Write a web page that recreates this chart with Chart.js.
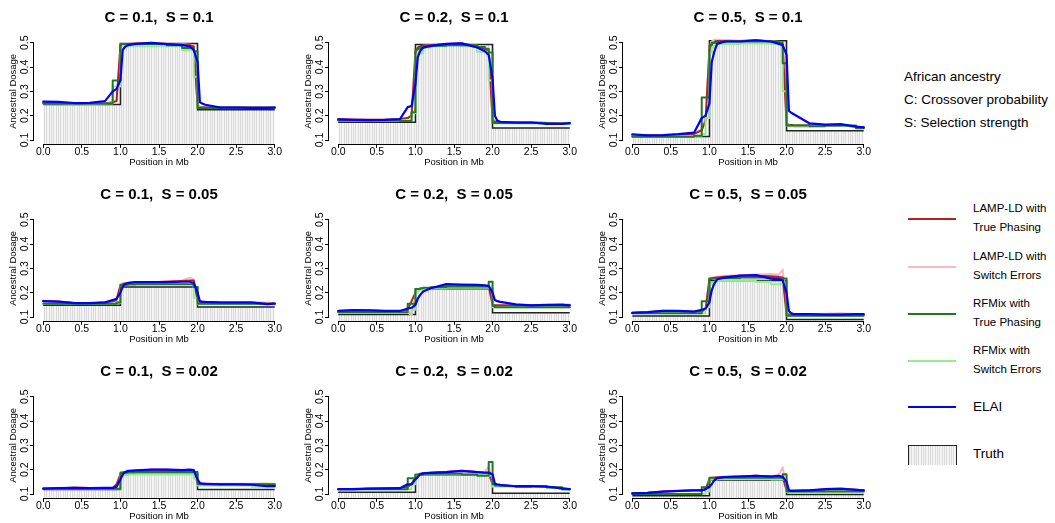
<!DOCTYPE html>
<html>
<head>
<meta charset="utf-8">
<script src="https://cdn.jsdelivr.net/npm/chart.js@4.4.0/dist/chart.umd.min.js"></script>
<style>
  html, body { margin: 0; padding: 0; background: #fff; overflow: hidden; }
  body { width: 1055px; height: 523px; position: relative; font-family: "Liberation Sans", Arial, Helvetica, sans-serif; }
  .panel { position: absolute; width: 290px; height: 169px; }
  .txt { position: absolute; white-space: nowrap; color: #000; }
  .swatch { position: absolute; height: 2px; width: 48px; left: 908px; }
  .truthbox { position: absolute; left: 908px; width: 47px; height: 19px; border: 1px solid #222; border-bottom: none;
    background: repeating-linear-gradient(90deg, #dcdcdc 0px, #dcdcdc 1px, #f4f4f4 1px, #f4f4f4 2.33px); }
</style>
</head>
<body>
<script>
const family = '"Liberation Sans", Arial, Helvetica, sans-serif';

// panel titles, row by row
const panelTitles = [
    'C = 0.1,  S = 0.1', 'C = 0.2,  S = 0.1', 'C = 0.5,  S = 0.1',
    'C = 0.1,  S = 0.05', 'C = 0.2,  S = 0.05', 'C = 0.5,  S = 0.05',
    'C = 0.1,  S = 0.02', 'C = 0.2,  S = 0.02', 'C = 0.5,  S = 0.02'
];

// positions (Mb) where the estimates were read
const positions = [0, 0.2, 0.4, 0.6, 0.8, 0.9, 0.95, 1.0, 1.03, 1.06, 1.1, 1.2, 1.4, 1.6, 1.8, 1.9, 1.95,
    2.0, 2.03, 2.06, 2.1, 2.3, 2.5, 2.7, 2.9, 3.0];

// truth: level left of 1 Mb, between 1 and 2 Mb, right of 2 Mb
const truthBreaks = [0, 1, 2, 3];
const truthLevels = [
    [0.246, 0.497, 0.224], [0.173, 0.493, 0.149], [0.114, 0.508, 0.138],
    [0.148, 0.223, 0.141], [0.110, 0.216, 0.118], [0.104, 0.250, 0.090],
    [0.119, 0.181, 0.119], [0.107, 0.178, 0.103], [0.093, 0.158, 0.098]
];

const elai = [
    [0.258, 0.257, 0.252, 0.253, 0.26, 0.3, 0.31, 0.345, 0.47, 0.483, 0.49, 0.495, 0.499, 0.494, 0.49, 0.485, 0.47, 0.42, 0.255, 0.25, 0.245, 0.233, 0.233, 0.232, 0.232, 0.233],
    [0.185, 0.183, 0.182, 0.183, 0.186, 0.235, 0.24, 0.33, 0.44, 0.465, 0.48, 0.487, 0.495, 0.497, 0.48, 0.465, 0.45, 0.35, 0.2, 0.18, 0.175, 0.172, 0.172, 0.166, 0.166, 0.17],
    [0.123, 0.119, 0.12, 0.124, 0.13, 0.19, 0.2, 0.25, 0.42, 0.46, 0.495, 0.505, 0.505, 0.51, 0.505, 0.495, 0.49, 0.45, 0.22, 0.212, 0.205, 0.168, 0.163, 0.165, 0.155, 0.152],
    [0.165, 0.163, 0.157, 0.157, 0.16, 0.17, 0.175, 0.2, 0.225, 0.235, 0.24, 0.243, 0.243, 0.243, 0.245, 0.245, 0.24, 0.2, 0.165, 0.163, 0.162, 0.16, 0.16, 0.16, 0.153, 0.155],
    [0.125, 0.128, 0.127, 0.125, 0.125, 0.135, 0.138, 0.15, 0.175, 0.19, 0.205, 0.218, 0.235, 0.233, 0.232, 0.23, 0.228, 0.2, 0.17, 0.165, 0.162, 0.152, 0.148, 0.15, 0.15, 0.148],
    [0.117, 0.12, 0.125, 0.125, 0.122, 0.13, 0.135, 0.16, 0.21, 0.235, 0.255, 0.262, 0.27, 0.272, 0.258, 0.255, 0.25, 0.2, 0.125, 0.115, 0.112, 0.112, 0.11, 0.11, 0.112, 0.112],
    [0.122, 0.124, 0.125, 0.124, 0.125, 0.125, 0.13, 0.16, 0.18, 0.19, 0.195, 0.197, 0.2, 0.2, 0.198, 0.2, 0.198, 0.16, 0.145, 0.143, 0.142, 0.14, 0.14, 0.138, 0.132, 0.132],
    [0.12, 0.12, 0.122, 0.123, 0.124, 0.14, 0.14, 0.16, 0.17, 0.18, 0.185, 0.187, 0.19, 0.195, 0.19, 0.188, 0.188, 0.18, 0.142, 0.14, 0.138, 0.132, 0.132, 0.13, 0.123, 0.12],
    [0.103, 0.105, 0.11, 0.113, 0.115, 0.115, 0.12, 0.13, 0.14, 0.155, 0.165, 0.17, 0.172, 0.175, 0.172, 0.175, 0.17, 0.15, 0.115, 0.113, 0.113, 0.115, 0.12, 0.122, 0.117, 0.115]
];

const rfmixTrue = [
    [0.25, 0.25, 0.25, 0.25, 0.25, 0.345, 0.345, 0.495, 0.495, 0.495, 0.495, 0.495, 0.495, 0.49, 0.478, 0.478, 0.465, 0.232, 0.232, 0.232, 0.232, 0.234, 0.234, 0.234, 0.234, 0.234],
    [0.18, 0.18, 0.18, 0.18, 0.178, 0.178, 0.214, 0.472, 0.475, 0.48, 0.485, 0.487, 0.49, 0.49, 0.482, 0.475, 0.46, 0.17, 0.17, 0.17, 0.17, 0.17, 0.17, 0.168, 0.168, 0.168],
    [0.113, 0.113, 0.113, 0.113, 0.118, 0.275, 0.275, 0.49, 0.5, 0.5, 0.503, 0.505, 0.505, 0.505, 0.505, 0.5, 0.415, 0.16, 0.16, 0.16, 0.16, 0.157, 0.16, 0.16, 0.148, 0.148],
    [0.155, 0.155, 0.155, 0.155, 0.155, 0.155, 0.16, 0.232, 0.232, 0.233, 0.234, 0.235, 0.235, 0.235, 0.235, 0.235, 0.223, 0.155, 0.155, 0.155, 0.155, 0.155, 0.155, 0.155, 0.155, 0.155],
    [0.12, 0.12, 0.12, 0.12, 0.12, 0.155, 0.155, 0.215, 0.215, 0.218, 0.22, 0.222, 0.225, 0.225, 0.225, 0.225, 0.245, 0.145, 0.14, 0.14, 0.14, 0.14, 0.14, 0.14, 0.14, 0.14],
    [0.115, 0.115, 0.115, 0.115, 0.115, 0.165, 0.165, 0.258, 0.258, 0.258, 0.26, 0.26, 0.262, 0.262, 0.26, 0.258, 0.258, 0.105, 0.105, 0.105, 0.105, 0.105, 0.105, 0.105, 0.105, 0.105],
    [0.122, 0.122, 0.122, 0.122, 0.122, 0.122, 0.122, 0.188, 0.188, 0.188, 0.189, 0.19, 0.19, 0.19, 0.19, 0.19, 0.19, 0.14, 0.14, 0.14, 0.14, 0.14, 0.14, 0.14, 0.14, 0.14],
    [0.12, 0.12, 0.12, 0.12, 0.12, 0.165, 0.165, 0.18, 0.18, 0.18, 0.183, 0.183, 0.183, 0.18, 0.175, 0.175, 0.232, 0.14, 0.135, 0.135, 0.133, 0.13, 0.132, 0.128, 0.12, 0.12],
    [0.1, 0.1, 0.1, 0.1, 0.1, 0.128, 0.128, 0.167, 0.167, 0.167, 0.167, 0.167, 0.167, 0.167, 0.167, 0.167, 0.181, 0.11, 0.11, 0.11, 0.11, 0.11, 0.11, 0.11, 0.11, 0.11]
];

const rfmixSwitch = [
    [0.25, 0.25, 0.25, 0.25, 0.25, 0.32, 0.32, 0.46, 0.48, 0.485, 0.485, 0.485, 0.485, 0.485, 0.47, 0.47, 0.36, 0.235, 0.233, 0.233, 0.233, 0.232, 0.232, 0.232, 0.232, 0.232],
    [0.18, 0.18, 0.18, 0.18, 0.18, 0.18, 0.21, 0.45, 0.455, 0.457, 0.48, 0.485, 0.488, 0.485, 0.463, 0.463, 0.345, 0.17, 0.168, 0.168, 0.168, 0.168, 0.168, 0.167, 0.167, 0.167],
    [0.118, 0.117, 0.115, 0.115, 0.118, 0.125, 0.19, 0.46, 0.48, 0.49, 0.495, 0.495, 0.497, 0.497, 0.495, 0.495, 0.3, 0.16, 0.157, 0.157, 0.155, 0.157, 0.16, 0.158, 0.15, 0.15],
    [0.155, 0.155, 0.155, 0.155, 0.155, 0.155, 0.158, 0.23, 0.232, 0.233, 0.235, 0.235, 0.235, 0.235, 0.235, 0.235, 0.178, 0.152, 0.152, 0.152, 0.152, 0.152, 0.152, 0.152, 0.152, 0.152],
    [0.12, 0.12, 0.12, 0.12, 0.12, 0.12, 0.13, 0.205, 0.21, 0.212, 0.215, 0.218, 0.22, 0.22, 0.22, 0.22, 0.22, 0.14, 0.14, 0.14, 0.14, 0.14, 0.14, 0.14, 0.14, 0.14],
    [0.115, 0.115, 0.115, 0.115, 0.115, 0.115, 0.14, 0.235, 0.24, 0.245, 0.25, 0.25, 0.25, 0.245, 0.235, 0.235, 0.235, 0.105, 0.105, 0.105, 0.105, 0.105, 0.105, 0.105, 0.105, 0.105],
    [0.122, 0.122, 0.122, 0.122, 0.122, 0.122, 0.122, 0.178, 0.178, 0.178, 0.18, 0.18, 0.18, 0.18, 0.18, 0.18, 0.164, 0.135, 0.135, 0.135, 0.135, 0.135, 0.135, 0.13, 0.13, 0.13],
    [0.12, 0.12, 0.12, 0.12, 0.12, 0.12, 0.14, 0.175, 0.178, 0.18, 0.18, 0.18, 0.18, 0.18, 0.18, 0.18, 0.175, 0.13, 0.13, 0.13, 0.13, 0.13, 0.13, 0.125, 0.118, 0.118],
    [0.1, 0.1, 0.1, 0.1, 0.1, 0.1, 0.11, 0.16, 0.16, 0.16, 0.162, 0.162, 0.162, 0.162, 0.16, 0.16, 0.16, 0.108, 0.108, 0.108, 0.108, 0.108, 0.11, 0.11, 0.11, 0.11]
];

const lampTrue = [
    [0.252, 0.252, 0.25, 0.25, 0.25, 0.255, 0.26, 0.49, 0.495, 0.495, 0.495, 0.497, 0.498, 0.495, 0.493, 0.49, 0.485, 0.24, 0.235, 0.235, 0.235, 0.233, 0.233, 0.233, 0.233, 0.233],
    [0.185, 0.183, 0.183, 0.183, 0.185, 0.19, 0.2, 0.46, 0.48, 0.485, 0.487, 0.49, 0.495, 0.497, 0.485, 0.475, 0.465, 0.18, 0.175, 0.175, 0.173, 0.172, 0.172, 0.17, 0.168, 0.168],
    [0.12, 0.12, 0.12, 0.122, 0.125, 0.14, 0.18, 0.47, 0.495, 0.5, 0.505, 0.507, 0.507, 0.51, 0.505, 0.5, 0.49, 0.165, 0.163, 0.162, 0.16, 0.16, 0.16, 0.16, 0.155, 0.152],
    [0.165, 0.163, 0.158, 0.157, 0.16, 0.165, 0.17, 0.23, 0.235, 0.238, 0.24, 0.242, 0.243, 0.245, 0.248, 0.25, 0.25, 0.17, 0.162, 0.16, 0.16, 0.158, 0.158, 0.158, 0.155, 0.155],
    [0.125, 0.127, 0.127, 0.125, 0.125, 0.13, 0.165, 0.2, 0.21, 0.215, 0.215, 0.22, 0.225, 0.225, 0.225, 0.225, 0.225, 0.15, 0.148, 0.148, 0.148, 0.148, 0.148, 0.148, 0.15, 0.148],
    [0.117, 0.12, 0.125, 0.125, 0.122, 0.125, 0.13, 0.255, 0.258, 0.26, 0.262, 0.265, 0.27, 0.27, 0.268, 0.265, 0.262, 0.11, 0.11, 0.11, 0.11, 0.11, 0.11, 0.11, 0.11, 0.11],
    [0.123, 0.124, 0.126, 0.125, 0.125, 0.125, 0.14, 0.18, 0.188, 0.19, 0.193, 0.196, 0.2, 0.2, 0.198, 0.198, 0.197, 0.145, 0.143, 0.142, 0.142, 0.14, 0.14, 0.14, 0.138, 0.138],
    [0.12, 0.12, 0.122, 0.123, 0.124, 0.13, 0.14, 0.17, 0.178, 0.183, 0.185, 0.187, 0.19, 0.195, 0.19, 0.185, 0.185, 0.14, 0.138, 0.136, 0.135, 0.132, 0.132, 0.13, 0.123, 0.12],
    [0.103, 0.105, 0.11, 0.112, 0.115, 0.115, 0.118, 0.16, 0.165, 0.167, 0.168, 0.17, 0.172, 0.175, 0.172, 0.172, 0.17, 0.115, 0.113, 0.113, 0.113, 0.115, 0.118, 0.12, 0.117, 0.115]
];

const lampSwitch = [
    [0.252, 0.252, 0.25, 0.25, 0.25, 0.255, 0.265, 0.45, 0.49, 0.495, 0.497, 0.497, 0.5, 0.497, 0.495, 0.492, 0.49, 0.245, 0.238, 0.236, 0.236, 0.234, 0.234, 0.234, 0.234, 0.234],
    [0.187, 0.185, 0.183, 0.183, 0.185, 0.19, 0.205, 0.44, 0.475, 0.485, 0.487, 0.49, 0.495, 0.497, 0.487, 0.478, 0.47, 0.19, 0.178, 0.176, 0.175, 0.174, 0.174, 0.172, 0.166, 0.165],
    [0.12, 0.12, 0.12, 0.122, 0.125, 0.145, 0.19, 0.48, 0.505, 0.512, 0.515, 0.512, 0.508, 0.51, 0.507, 0.503, 0.495, 0.17, 0.163, 0.162, 0.16, 0.16, 0.16, 0.16, 0.155, 0.152],
    [0.167, 0.165, 0.158, 0.157, 0.16, 0.165, 0.17, 0.235, 0.24, 0.24, 0.24, 0.243, 0.243, 0.247, 0.25, 0.262, 0.255, 0.168, 0.162, 0.16, 0.16, 0.158, 0.158, 0.16, 0.16, 0.158],
    [0.125, 0.127, 0.127, 0.125, 0.125, 0.12, 0.107, 0.19, 0.205, 0.212, 0.215, 0.22, 0.228, 0.228, 0.227, 0.225, 0.225, 0.15, 0.145, 0.145, 0.145, 0.145, 0.148, 0.15, 0.155, 0.15],
    [0.117, 0.12, 0.127, 0.125, 0.122, 0.125, 0.13, 0.26, 0.262, 0.264, 0.266, 0.27, 0.272, 0.275, 0.277, 0.275, 0.295, 0.12, 0.113, 0.112, 0.112, 0.112, 0.113, 0.115, 0.112, 0.112],
    [0.123, 0.124, 0.127, 0.125, 0.125, 0.125, 0.14, 0.182, 0.19, 0.19, 0.193, 0.197, 0.2, 0.2, 0.2, 0.198, 0.198, 0.148, 0.145, 0.143, 0.143, 0.142, 0.142, 0.142, 0.143, 0.142],
    [0.12, 0.122, 0.125, 0.123, 0.124, 0.13, 0.14, 0.172, 0.18, 0.183, 0.185, 0.188, 0.192, 0.197, 0.19, 0.19, 0.215, 0.14, 0.138, 0.136, 0.135, 0.133, 0.133, 0.13, 0.123, 0.12],
    [0.103, 0.105, 0.11, 0.112, 0.115, 0.115, 0.118, 0.165, 0.168, 0.17, 0.17, 0.172, 0.173, 0.175, 0.172, 0.18, 0.21, 0.12, 0.115, 0.115, 0.115, 0.116, 0.118, 0.12, 0.117, 0.115]
];

const xTickValues = [0, 0.5, 1, 1.5, 2, 2.5, 3];
const yTickValues = [0.1, 0.2, 0.3, 0.4, 0.5];

const colors = {
    lampTrue: '#b22222',
    lampSwitch: '#ffb6c1',
    rfmixTrue: '#227722',
    rfmixSwitch: '#90ee90',
    elai: '#0000ff',
    truth: '#222222'
};

// panel layout (px)
const colLeft = [0, 295, 589.4];
const rowTop = [0, 176.6, 354];

// R style axes: lines only between first and last tick, rotated y labels
const rAxes = {
    id: 'rAxes',
    afterDatasetsDraw(chart) {
        const { ctx, chartArea } = chart;
        const x = chart.scales.x, y = chart.scales.y;
        ctx.save();
        ctx.strokeStyle = '#000';
        ctx.lineWidth = 1;
        ctx.beginPath();
        const yb = Math.round(chartArea.bottom) + 0.5;
        ctx.moveTo(x.getPixelForValue(xTickValues[0]), yb);
        ctx.lineTo(x.getPixelForValue(xTickValues[xTickValues.length - 1]), yb);
        const xl = Math.round(chartArea.left) - 0.5;
        ctx.moveTo(xl, y.getPixelForValue(yTickValues[0]));
        ctx.lineTo(xl, y.getPixelForValue(yTickValues[yTickValues.length - 1]));
        ctx.stroke();

        ctx.fillStyle = '#000';
        ctx.font = '10.5px ' + family;
        ctx.textAlign = 'center';
        ctx.textBaseline = 'middle';
        yTickValues.forEach(v => {
            ctx.save();
            ctx.translate(y.right - 9, y.getPixelForValue(v));
            ctx.rotate(-Math.PI / 2);
            ctx.fillText(v.toFixed(1), 0, 0);
            ctx.restore();
        });
        ctx.restore();
    }
};

function stripes(ctx) {
    const c = document.createElement('canvas');
    c.width = 7; c.height = 4;
    const g = c.getContext('2d');
    g.fillStyle = '#f4f4f4';
    g.fillRect(0, 0, 7, 4);
    g.fillStyle = '#dadada';
    [0, 2, 4].forEach(px => g.fillRect(px, 0, 1, 4));
    return ctx.createPattern(c, 'repeat');
}

function series(ys, color, width, stepped) {
    return {
        data: positions.map((x, k) => ({ x: x, y: ys[k] })),
        borderColor: color,
        borderWidth: width,
        stepped: stepped,
        fill: false,
        pointRadius: 0,
        tension: 0,
        borderJoinStyle: 'round',
        borderCapStyle: 'round'
    };
}

function makePanel(i) {
    const col = i % 3, row = Math.floor(i / 3);
    const canvas = document.createElement('canvas');
    canvas.className = 'panel';
    canvas.width = 290;
    canvas.height = 169;
    canvas.style.left = colLeft[col] + 'px';
    canvas.style.top = rowTop[row] + 'px';
    document.body.appendChild(canvas);
    const ctx = canvas.getContext('2d');

    const lv = truthLevels[i];
    const truth = {
        data: truthBreaks.map((x, k) => ({ x: x, y: lv[Math.min(k, 2)] })),
        borderColor: colors.truth,
        borderWidth: 1.5,
        stepped: true,
        fill: 'start',
        backgroundColor: stripes(ctx),
        pointRadius: 0
    };

    // first dataset is drawn on top
    new Chart(ctx, {
        type: 'line',
        data: {
            datasets: [
                series(elai[i], colors.elai, 2.2, false),
                series(rfmixTrue[i], colors.rfmixTrue, 2, true),
                series(rfmixSwitch[i], colors.rfmixSwitch, 2, true),
                series(lampTrue[i], colors.lampTrue, 2, false),
                series(lampSwitch[i], colors.lampSwitch, 2, false),
                truth
            ]
        },
        options: {
            responsive: false,
            animation: false,
            events: [],
            layout: { padding: { left: 0, right: 6, top: 0, bottom: 0 } },
            plugins: {
                legend: { display: false },
                tooltip: { enabled: false },
                title: {
                    display: true,
                    text: panelTitles[i],
                    fullSize: false,
                    color: '#000',
                    font: { family: family, size: 15, weight: 'bold' },
                    padding: { top: 9.3, bottom: 11.5 }
                }
            },
            scales: {
                x: {
                    type: 'linear',
                    min: -0.12,
                    max: 3.12,
                    afterBuildTicks: s => { s.ticks = xTickValues.map(v => ({ value: v })); },
                    afterFit: s => { s.height = 25.1; },
                    ticks: {
                        autoSkip: false,
                        maxRotation: 0,
                        padding: -2,
                        color: '#000',
                        font: { family: family, size: 10.5 },
                        callback: v => v.toFixed(1)
                    },
                    grid: { drawOnChartArea: false, tickLength: 4, color: '#000' },
                    border: { display: false },
                    title: {
                        display: true,
                        text: 'Position in Mb',
                        color: '#000',
                        font: { family: family, size: 9.5 },
                        padding: { top: 0, bottom: 1.3 }
                    }
                },
                y: {
                    type: 'linear',
                    min: 0.084,
                    max: 0.516,
                    afterBuildTicks: s => { s.ticks = yTickValues.map(v => ({ value: v })); },
                    afterFit: s => { s.width = 34; },
                    ticks: { display: false },
                    grid: { drawOnChartArea: false, tickLength: 4, color: '#000' },
                    border: { display: false },
                    title: {
                        display: true,
                        text: 'Ancestral Dosage',
                        color: '#000',
                        font: { family: family, size: 9.5 },
                        padding: { top: 7.8, bottom: 0 }
                    }
                }
            }
        },
        plugins: [rAxes]
    });
}

for (let i = 0; i < 9; i++) makePanel(i);

// legend on the right
const legendNotes = ['African ancestry', 'C: Crossover probability', 'S: Selection strength'];
const legendNoteY = [76.7, 100, 123];
const legendLabels = [
    ['LAMP-LD with', 'True Phasing'],
    ['LAMP-LD with', 'Switch Errors'],
    ['RFMix with', 'True Phasing'],
    ['RFMix with', 'Switch Errors'],
    ['ELAI'],
    ['Truth']
];
const legendColors = [colors.lampTrue, colors.lampSwitch, colors.rfmixTrue, colors.rfmixSwitch, colors.elai, null];
const legendY = [219.3, 266.7, 313.5, 360.7, 407.3, 454];

function addText(text, left, cy, size) {
    const d = document.createElement('div');
    d.className = 'txt';
    d.textContent = text;
    d.style.left = left + 'px';
    d.style.top = (cy - size * 0.6) + 'px';
    d.style.fontSize = size + 'px';
    d.style.lineHeight = (size * 1.2) + 'px';
    document.body.appendChild(d);
}

legendNotes.forEach((t, k) => addText(t, 904, legendNoteY[k], 13.5));

legendLabels.forEach((lines, k) => {
    const cy = legendY[k];
    if (legendColors[k]) {
        const s = document.createElement('div');
        s.className = 'swatch';
        s.style.top = (cy - 1) + 'px';
        s.style.background = legendColors[k];
        document.body.appendChild(s);
    } else {
        const b = document.createElement('div');
        b.className = 'truthbox';
        b.style.top = (cy - 9) + 'px';
        document.body.appendChild(b);
    }
    if (lines.length === 2) {
        addText(lines[0], 973, cy - 10, 11.5);
        addText(lines[1], 973, cy + 9, 11.5);
    } else {
        addText(lines[0], 973, cy, 13.5);
    }
});
</script>
</body>
</html>
